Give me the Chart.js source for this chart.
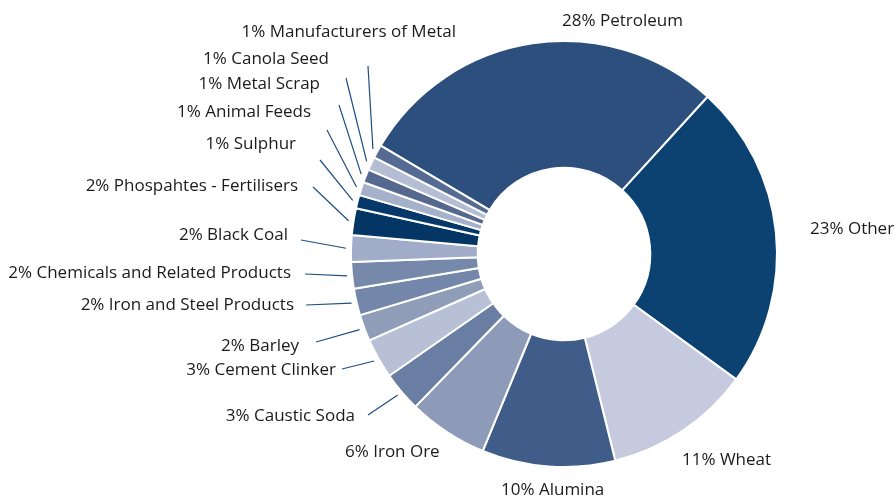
<!DOCTYPE html>
<html>
<head>
<meta charset="utf-8">
<script src="https://cdn.jsdelivr.net/npm/chart.js@4/dist/chart.umd.min.js"></script>
<style>
  html, body { margin: 0; padding: 0; background: #fff; }
</style>
</head>
<body>
<canvas id="exportsChart" width="896" height="500"></canvas>
<script>
// commodity shares, clockwise from Petroleum
var commodities = ['Petroleum', 'Other', 'Wheat', 'Alumina', 'Iron Ore', 'Caustic Soda',
    'Cement Clinker', 'Barley', 'Iron and Steel Products', 'Chemicals and Related Products',
    'Black Coal', 'Phospahtes - Fertilisers', 'Sulphur', 'Animal Feeds', 'Metal Scrap',
    'Canola Seed', 'Manufacturers of Metal'];
var shares = [28, 23, 11, 10, 6, 3, 3, 2, 2, 2, 2, 2, 1, 1, 1, 1, 1];
var sliceColors = ['#2c4f7e', '#0c4272', '#c6cadf', '#3f5d88', '#8d9bb8', '#6a7ea3',
    '#b8c0d6', '#8f9db9', '#7487aa', '#7689ab', '#a1acc8', '#033565', '#07386a',
    '#a5b0cb', '#55698f', '#b4bdd4', '#566b94'];

// where each label sits; lx/ly is the outer end of its leader line (none = no line)
var labelSpots = [
    { x: 562, y: 21,  align: 'left' },
    { x: 810, y: 229, align: 'left' },
    { x: 682, y: 460, align: 'left' },
    { x: 501, y: 490, align: 'left' },
    { x: 345, y: 452, align: 'left' },
    { x: 355, y: 416, align: 'right', lx: 368, ly: 415 },
    { x: 336, y: 370, align: 'right', lx: 342, ly: 369 },
    { x: 299, y: 346, align: 'right', lx: 316, ly: 342 },
    { x: 294, y: 305, align: 'right', lx: 306, ly: 305 },
    { x: 291, y: 273, align: 'right', lx: 305, ly: 274 },
    { x: 288, y: 235, align: 'right', lx: 301, ly: 240 },
    { x: 298, y: 186, align: 'right', lx: 313, ly: 187 },
    { x: 296, y: 144, align: 'right', lx: 320, ly: 160 },
    { x: 311, y: 112, align: 'right', lx: 327, ly: 130 },
    { x: 320, y: 84,  align: 'right', lx: 339, ly: 105 },
    { x: 329, y: 59,  align: 'right', lx: 346, ly: 78 },
    { x: 456, y: 32,  align: 'right', lx: 368, ly: 66 }
];

var canvas = document.getElementById('exportsChart');
new Chart(canvas, {
    type: 'doughnut',
    data: {
        labels: commodities,
        datasets: [{
            data: shares,
            backgroundColor: sliceColors,
            borderColor: '#ffffff',
            borderWidth: 2
        }]
    },
    options: {
        responsive: false,
        animation: false,
        rotation: -59.4,
        cutout: '40.5%',
        layout: {
            padding: { top: 40, bottom: 32, left: 350, right: 118 }
        },
        plugins: {
            legend: { display: false },
            tooltip: { enabled: false }
        }
    },
    plugins: [{
        id: 'sliceLabels',
        afterDraw: function(chart) {
            var ctx = chart.ctx;
            var meta = chart.getDatasetMeta(0);
            var values = chart.data.datasets[0].data;
            ctx.save();
            ctx.font = '17px "Open Sans"';
            ctx.textBaseline = 'middle';
            meta.data.forEach(function(arc, i) {
                var spot = labelSpots[i];
                var p = arc.getProps(['x', 'y', 'startAngle', 'endAngle', 'outerRadius'], true);
                var mid = (p.startAngle + p.endAngle) / 2;
                if (spot.lx !== undefined) {
                    var r = p.outerRadius + 5;
                    ctx.strokeStyle = '#1f4e80';
                    ctx.lineWidth = 1.2;
                    ctx.beginPath();
                    ctx.moveTo(spot.lx, spot.ly);
                    ctx.lineTo(p.x + Math.cos(mid) * r, p.y + Math.sin(mid) * r);
                    ctx.stroke();
                }
                ctx.fillStyle = '#1c1a1b';
                ctx.textAlign = spot.align;
                ctx.fillText(values[i] + '% ' + chart.data.labels[i], spot.x, spot.y);
            });
            ctx.restore();
        }
    }]
});
</script>
</body>
</html>
